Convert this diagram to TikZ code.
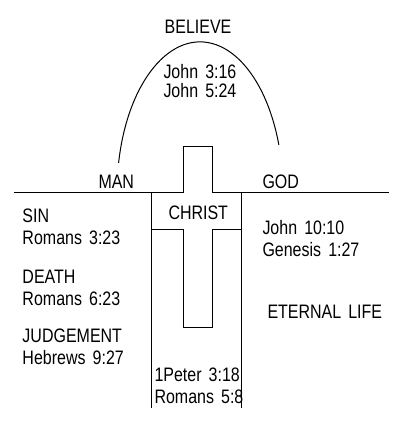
\documentclass[tikz,border=0pt]{standalone}
\usepackage{fontspec}
\setmainfont{Liberation Sans}[FakeStretch=0.82,WordSpace=1.6]

\begin{document}
\begin{tikzpicture}[x=1pt, y=-1pt, line width=1pt]
  % Define styles
  \tikzset{
    label/.style={inner sep=0pt, anchor=base west, align=left,
      font=\fontsize{19.5}{21.5}\selectfont},
    title/.style={label, anchor=base}
  }
  \useasboundingbox (0,0) rectangle (411,432);

  % Ground line with top of the cross
  \draw (14,192) -- (183,192) -- (183,146) -- (212,146) -- (212,192) -- (389,192);

  % Walls of the gap
  \draw (151,192) -- (151,408);
  \draw (241,192) -- (241,408);

  % Crossbar and lower part of the cross
  \draw (151,229) -- (183,229) -- (183,327) -- (212,327) -- (212,229) -- (241,229);

  % Bridge of faith
  \draw (118.6,163) arc[start angle=191.1, end angle=341.7, x radius=83, y radius=150];

  % Top labels (base of a two-line label is its last line)
  \node[title] (believe) at (198,33) {BELIEVE};
  \node[label] (john) at (163,97) {John 3:16\\[-2.5pt]John 5:24};
  \node[label] (man) at (98,188) {MAN};
  \node[label] (god) at (262,188) {GOD};
  \node[label] (christ) at (168,219) {CHRIST};

  % Man's side
  \node[label] (sin) at (22,244) {SIN\\Romans 3:23};
  \node[label] (death) at (22,305) {DEATH\\Romans 6:23};
  \node[label] (judgement) at (22,364) {JUDGEMENT\\Hebrews 9:27};

  % Through the cross
  \node[label] (peter) at (154,403) {1Peter 3:18\\Romans 5:8};

  % God's side
  \node[label] (life) at (262,256) {John 10:10\\Genesis 1:27};
  \node[label] (eternal) at (267,318) {ETERNAL LIFE};
\end{tikzpicture}
\end{document}
